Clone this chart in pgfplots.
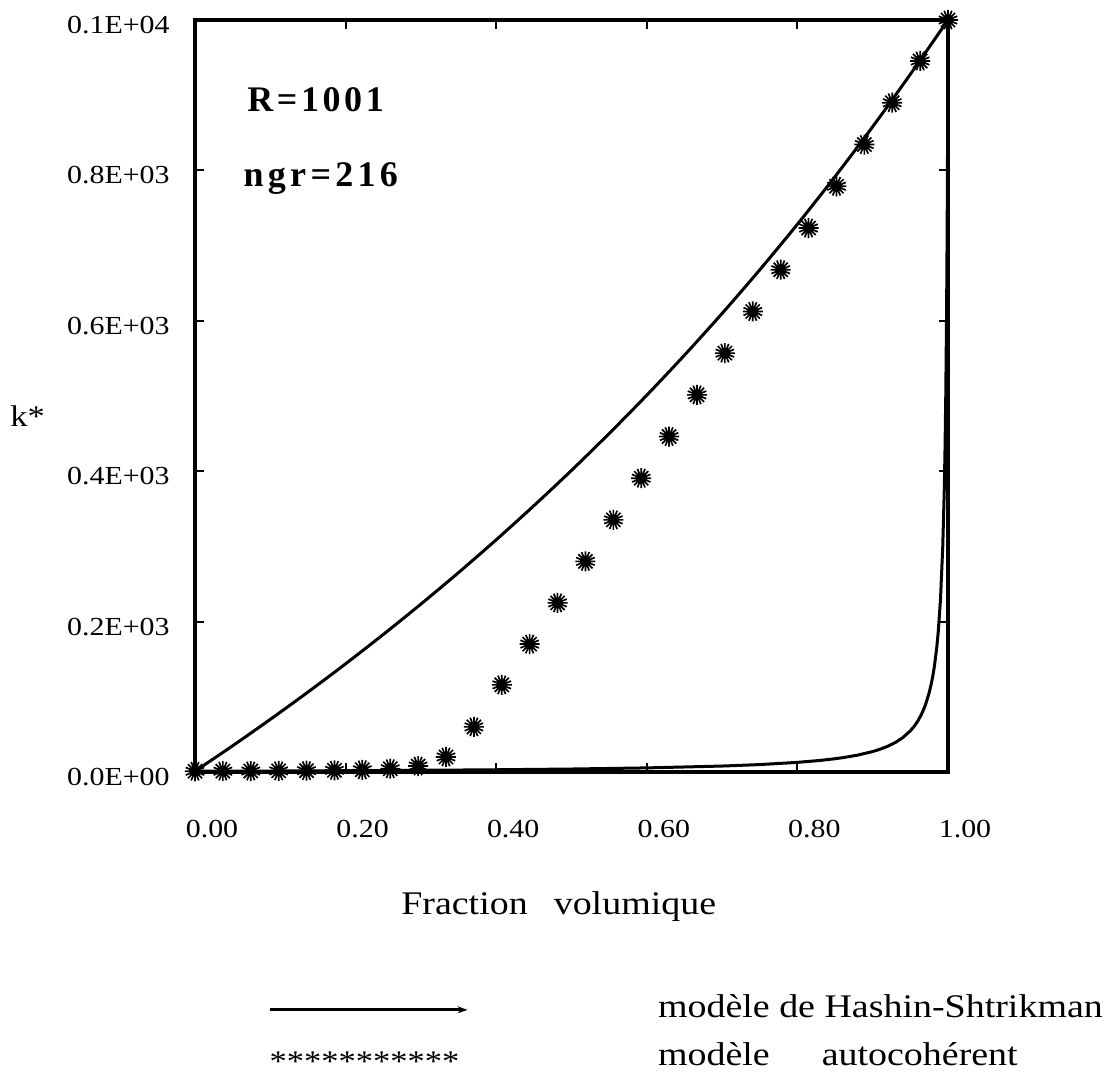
\documentclass[border=0pt]{standalone}
\usepackage{fontspec}
\setmainfont{Liberation Serif}[FakeStretch=1.15]
\newfontfamily\annotfont{Liberation Serif}
\usepackage{pgfplots}
\pgfplotsset{compat=1.18}
\usetikzlibrary{arrows.meta}

\pgfdeclareplotmark{burst}{%
  \pgfsetlinewidth{0.85pt}%
  \pgfpathmoveto{\pgfqpointpolar{0}{\pgfplotmarksize}}\pgfpathlineto{\pgfqpointpolar{180}{\pgfplotmarksize}}%
  \pgfpathmoveto{\pgfqpointpolar{22.5}{\pgfplotmarksize}}\pgfpathlineto{\pgfqpointpolar{202.5}{\pgfplotmarksize}}%
  \pgfpathmoveto{\pgfqpointpolar{45}{\pgfplotmarksize}}\pgfpathlineto{\pgfqpointpolar{225}{\pgfplotmarksize}}%
  \pgfpathmoveto{\pgfqpointpolar{67.5}{\pgfplotmarksize}}\pgfpathlineto{\pgfqpointpolar{247.5}{\pgfplotmarksize}}%
  \pgfpathmoveto{\pgfqpointpolar{90}{\pgfplotmarksize}}\pgfpathlineto{\pgfqpointpolar{270}{\pgfplotmarksize}}%
  \pgfpathmoveto{\pgfqpointpolar{112.5}{\pgfplotmarksize}}\pgfpathlineto{\pgfqpointpolar{292.5}{\pgfplotmarksize}}%
  \pgfpathmoveto{\pgfqpointpolar{135}{\pgfplotmarksize}}\pgfpathlineto{\pgfqpointpolar{315}{\pgfplotmarksize}}%
  \pgfpathmoveto{\pgfqpointpolar{157.5}{\pgfplotmarksize}}\pgfpathlineto{\pgfqpointpolar{337.5}{\pgfplotmarksize}}%
  \pgfusepathqstroke
  \pgfpathcircle{\pgfpointorigin}{0.55\pgfplotmarksize}%
  \pgfusepathqfill
}

\begin{document}
\begin{tikzpicture}
\path[use as bounding box] (-97.5pt,-152.5pt) rectangle (458pt,386pt);
\begin{axis}[
  at={(0pt,0pt)}, anchor=south west,
  scale only axis, width=376.5pt, height=376pt,
  xmin=0, xmax=1, ymin=0, ymax=1000,
  clip=false,
  axis line style={line width=2pt},
  tick align=inside, major tick length=4.5pt,
  every tick/.style={black, line width=1pt},
  xtick={0,0.2,0.4,0.6,0.8,1}, xticklabels={0.00,0.20,0.40,0.60,0.80,1.00},
  ytick={0,200,400,600,800,1000},
  yticklabels={0.0E+00,0.2E+03,0.4E+03,0.6E+03,0.8E+03,0.1E+04},
  tick label style={font=\fontsize{13}{14}\selectfont},
  xticklabel style={anchor=base, inner sep=0pt, xshift=8.5pt, yshift=-32.5pt},
  yticklabel style={anchor=base east, inner sep=0pt, xshift=-12.5pt, yshift=-6.7pt},
  xlabel={Fraction\hspace{13pt}volumique},
  ylabel={k*},
  every axis x label/.style={at={(rel axis cs:0.483,-0.19)}, anchor=base, font=\fontsize{16.5}{18}\selectfont},
  every axis y label/.style={at={(rel axis cs:-0.2457,0.4588)}, anchor=base west, inner sep=0pt, font=\fontsize{15}{16}\selectfont},
  legend cell align=left,
  legend style={draw=none, fill=none, at={(rel axis cs:0.097,-0.295)}, anchor=north west,
    inner sep=0pt, outer sep=0pt, column sep=94.5pt, row sep=8pt,
    font=\fontsize{16.5}{18}\selectfont,
    nodes={inner sep=0pt, text height=12pt, text depth=4pt}},
]
% Hashin-Shtrikman upper bound
\addplot[line width=1.5pt, smooth,
  legend image code/.code={\draw[line width=1.5pt,-{Stealth[length=5pt,width=3.5pt]}] (0pt,0pt) -- (99pt,0pt);}]
  coordinates {
  (0,1) (0.05,34.9) (0.1,70.0) (0.15,106.3) (0.2,143.9) (0.25,182.9) (0.3,223.3)
  (0.35,265.2) (0.4,308.8) (0.45,354.1) (0.5,401.1) (0.55,450.1) (0.6,501.1)
  (0.65,554.3) (0.7,609.8) (0.75,667.8) (0.8,728.4) (0.85,791.8) (0.9,858.2)
  (0.95,927.9) (1.0,1000)
  };
\addlegendentry{modèle de Hashin-Shtrikman}
% Hashin-Shtrikman lower bound
\addplot[line width=1.5pt, forget plot] coordinates {
  (0,1) (0.1,1.33) (0.2,1.75) (0.3,2.28) (0.4,2.99) (0.5,3.98) (0.6,5.47)
  (0.7,7.93) (0.75,9.89) (0.8,12.82) (0.83,15.39) (0.85,17.67) (0.86,19.04)
  (0.88,22.46) (0.9,27.21) (0.91,30.4) (0.92,34.25) (0.93,39.2) (0.94,45.76)
  (0.95,54.77) (0.955,60.7) (0.96,67.98) (0.965,77.2) (0.97,89.18) (0.975,105.5)
  (0.978,118.4) (0.98,128.8) (0.982,141.3) (0.985,165.2) (0.987,186.1) (0.99,229.5)
  (0.993,298.9) (0.995,374.1) (0.996,427.9) (0.997,499.5) (0.998,599.8)
  (0.9985,666.7) (0.999,750.3) (0.9995,857.7) (1.0,1000)
  };
% self-consistent model
\addplot[only marks, mark=burst, mark size=5pt,
  legend image code/.code={\node[anchor=west, inner sep=0pt, font=\fontsize{15}{15}\selectfont] at (0pt,-3pt) {***********};}]
  coordinates {
  (0,1.0) (0.0370,1.13) (0.0741,1.29) (0.1111,1.50) (0.1481,1.79) (0.1852,2.24)
  (0.2222,2.96) (0.2593,4.35) (0.2963,7.95) (0.3333,20) (0.3704,60) (0.4074,115.9)
  (0.4444,170.1) (0.4815,224.9) (0.5185,280.1) (0.5556,335.3) (0.5926,390.7)
  (0.6296,446.1) (0.6667,501.5) (0.7037,557.0) (0.7407,612.4) (0.7778,667.9)
  (0.8148,723.4) (0.8519,778.9) (0.8889,834.4) (0.9259,890.0) (0.9630,945.5)
  (1.0,1000)
  };
\addlegendentry{modèle\hspace{26pt}autocohérent}
\node[anchor=base west, inner sep=0pt, font={\annotfont\bfseries\fontsize{18}{20}\selectfont\addfontfeature{LetterSpace=10}}] at (axis cs:0.069,878) {R=1001};
\node[anchor=base west, inner sep=0pt, font={\annotfont\bfseries\fontsize{18}{20}\selectfont\addfontfeature{LetterSpace=12}}] at (axis cs:0.064,778) {ngr=216};
\end{axis}
\end{tikzpicture}
\end{document}
